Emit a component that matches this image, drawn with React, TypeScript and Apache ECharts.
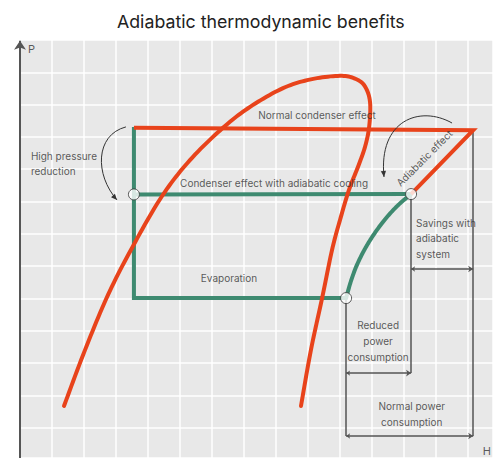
import React, { useEffect, useRef } from "react";
import * as echarts from "echarts";

// Axis extents in grid units (one white grid square = 1 unit); y runs downward from the top.
const X_MAX = 14.78;
const Y_MAX = 12.94;

// Saturation dome (red)
const domeCurve: [number, number][] = [
  [1.375, 11.33], [2.03, 9.6], [2.75, 7.89], [3.53, 6.38], [4.44, 4.83], [5.31, 3.72],
  [6.34, 2.72], [7.19, 2.07], [8.22, 1.49], [9.125, 1.21], [10.06, 1.11],
  [10.56, 1.24], [10.81, 1.49], [10.94, 1.95], [10.91, 2.69], [10.78, 3.31], [10.56, 3.93],
  [10.28, 4.64], [10.0, 5.57], [9.75, 6.5], [9.44, 7.99], [9.09, 9.6], [8.78, 11.33],
];

// Normal cycle: condenser line and compression (red)
const normalCycle: [number, number][] = [[3.56, 2.72], [14.16, 2.79], [12.22, 4.77]];

// Adiabatic cycle (green)
const adiabaticLoop: [number, number][] = [[3.56, 2.69], [3.56, 7.99], [10.19, 7.99]];
const adiabaticCondenser: [number, number][] = [[3.56, 4.78], [12.22, 4.77]];
const adiabaticCompression: [number, number][] = [
  [10.19, 7.99], [10.33, 7.5], [10.5, 7.03], [10.71, 6.59], [10.95, 6.18],
  [11.22, 5.79], [11.52, 5.42], [11.85, 5.08], [12.22, 4.77],
];

// State points (white circles)
const statePoints: [number, number][] = [[3.56, 4.78], [12.22, 4.77], [10.19, 7.99]];

// Thin guide lines and dimension arrows
const guideLines: [number, number][][] = [
  [[12.22, 4.77], [12.22, 10.31]],
  [[14.16, 2.79], [14.16, 12.26]],
  [[10.19, 8.02], [10.19, 12.26]],
];
const dimensionLines: [number, number][][] = [
  [[12.22, 7.09], [14.16, 7.09]],
  [[10.19, 10.31], [12.22, 10.31]],
  [[10.19, 12.26], [14.16, 12.26]],
];

// Curved annotation arrows: start, control 1, control 2, end
const curvedArrows: number[][] = [
  [3.31, 2.69, 2.34, 2.94, 2.34, 4.18, 3.03, 4.95],
  [13.5, 2.57, 12.5, 2.01, 11.19, 2.48, 11.375, 4.24],
];

// Annotation texts
const labelTexts = [
  "Normal condenser effect",
  "High pressure\nreduction",
  "Condenser effect with adiabatic cooling",
  "Evaporation",
  "Adiabatic effect",
  "Savings with\nadiabatic\nsystem",
  "Reduced\npower\nconsumption",
  "Normal power\nconsumption",
  "P",
  "H",
];
const labelAnchors: [number, number][] = [
  [9.28, 2.32], [0.34, 3.82], [7.94, 4.43], [6.53, 7.37], [12.63, 3.65],
  [12.375, 6.13], [11.19, 9.31], [12.24, 11.58], [0.25, 0.29], [14.59, 12.72],
];
const labelAligns = ["center", "left", "center", "center", "center", "left", "center", "center", "left", "center"];
const labelRotations = [0, 0, 0, 0, 45, 0, 0, 0, 0, 0];
const labelLineHeights = [14, 15, 14, 14, 14, 15.5, 16, 15.7, 14, 14];
const labelSizes = [10, 10, 10, 10, 10, 10, 10, 10, 11, 11];

const RED = "#e8431b";
const GREEN = "#3e8a70";
const INK = "#333333";
const FONT = "Inter, 'Noto Sans', sans-serif";

// Smooth curve through the points (Catmull-Rom), drawn with the chart's own scales.
function splineSeries(points: [number, number][], color: string, z: number) {
  return {
    type: "custom",
    coordinateSystem: "cartesian2d",
    silent: true,
    z,
    data: points,
    renderItem: (params: any, api: any) => {
      if (params.dataIndex !== 0) return null;
      const px = points.map((p) => api.coord(p));
      const out: number[][] = [];
      const n = px.length;
      for (let i = 0; i < n - 1; i++) {
        const p0 = px[Math.max(0, i - 1)];
        const p1 = px[i];
        const p2 = px[i + 1];
        const p3 = px[Math.min(n - 1, i + 2)];
        const steps = 12;
        for (let s = 0; s < steps; s++) {
          const t = s / steps;
          const t2 = t * t, t3 = t2 * t;
          const f = (a: number, b: number, c: number, d: number) =>
            0.5 * (2 * b + (-a + c) * t + (2 * a - 5 * b + 4 * c - d) * t2 + (-a + 3 * b - 3 * c + d) * t3);
          out.push([f(p0[0], p1[0], p2[0], p3[0]), f(p0[1], p1[1], p2[1], p3[1])]);
        }
      }
      out.push(px[n - 1]);
      return {
        type: "polyline",
        shape: { points: out },
        style: { stroke: color, lineWidth: 4, fill: null, lineCap: "round", lineJoin: "round" },
      };
    },
  };
}

export default function App() {
  const ref = useRef<HTMLDivElement>(null);

  useEffect(() => {
    if (!ref.current) return;
    const chart = echarts.init(ref.current, undefined, { renderer: "svg" });

    const option: any = {
      animation: false,
      backgroundColor: "#ffffff",
      title: {
        text: "Adiabatic thermodynamic benefits",
        left: 112,
        top: 7,
        textStyle: { fontSize: 17.75, fontWeight: "normal", color: "#222", fontFamily: FONT },
      },
      grid: {
        left: 20, top: 40, right: 0, bottom: 0,
        show: true, backgroundColor: "#e8e8e8", borderWidth: 0,
      },
      xAxis: {
        type: "value", min: 0, max: X_MAX, interval: 1,
        axisLine: { show: false }, axisTick: { show: false }, axisLabel: { show: false },
        splitLine: { show: true, lineStyle: { color: "#ffffff", width: 1.5 } },
      },
      yAxis: {
        type: "value", min: 0, max: Y_MAX, interval: 1, inverse: true,
        axisLine: { show: false }, axisTick: { show: false }, axisLabel: { show: false },
        splitLine: { show: true, lineStyle: { color: "#ffffff", width: 1.5 } },
      },
      series: [
        {
          type: "lines", coordinateSystem: "cartesian2d", silent: true, clip: false,
          symbol: ["none", "arrow"], symbolSize: [7, 9],
          lineStyle: { color: "#555", width: 2, opacity: 1 },
          data: [{ coords: [[0, Y_MAX], [0, 0.02]] }],
          z: 3,
        },
        {
          type: "line", data: adiabaticLoop, showSymbol: false, silent: true,
          lineStyle: { color: GREEN, width: 4, join: "miter" }, z: 4,
        },
        {
          type: "line", data: adiabaticCondenser, showSymbol: false, silent: true,
          lineStyle: { color: GREEN, width: 4 }, z: 4,
        },
        splineSeries(adiabaticCompression, GREEN, 4),
        splineSeries(domeCurve, RED, 5),
        {
          type: "line", data: normalCycle, showSymbol: false, silent: true,
          lineStyle: { color: RED, width: 4, join: "miter" }, z: 5,
        },
        {
          type: "lines", coordinateSystem: "cartesian2d", silent: true, clip: false,
          symbol: "none",
          lineStyle: { color: "#555", width: 1.5, opacity: 1 },
          data: guideLines.map((c) => ({ coords: c })),
          z: 3,
        },
        {
          type: "lines", coordinateSystem: "cartesian2d", silent: true, clip: false,
          symbol: ["arrow", "arrow"], symbolSize: [4, 5],
          lineStyle: { color: "#555", width: 1.5, opacity: 1 },
          data: dimensionLines.map((c) => ({ coords: c })),
          z: 3,
        },
        {
          type: "custom", coordinateSystem: "cartesian2d", silent: true,
          dimensions: ["x0", "y0", "c1x", "c1y", "c2x", "c2y", "x1", "y1"],
          encode: { x: [0, 2, 4, 6], y: [1, 3, 5, 7] },
          data: curvedArrows,
          z: 6,
          renderItem: (params: any, api: any) => {
            const p = (i: number) => api.coord([api.value(i), api.value(i + 1)]);
            const a = p(0), c1 = p(2), c2 = p(4), b = p(6);
            const ang = Math.atan2(b[1] - c2[1], b[0] - c2[0]);
            const L = 6, W = 2.6;
            const base = [b[0] - L * Math.cos(ang), b[1] - L * Math.sin(ang)];
            const left = [base[0] + W * Math.sin(ang), base[1] - W * Math.cos(ang)];
            const right = [base[0] - W * Math.sin(ang), base[1] + W * Math.cos(ang)];
            return {
              type: "group",
              children: [
                {
                  type: "bezierCurve",
                  shape: { x1: a[0], y1: a[1], cpx1: c1[0], cpy1: c1[1], cpx2: c2[0], cpy2: c2[1], x2: b[0], y2: b[1] },
                  style: { stroke: INK, lineWidth: 1, fill: null },
                },
                { type: "polygon", shape: { points: [b, left, right] }, style: { fill: INK } },
              ],
            };
          },
        },
        {
          type: "scatter", data: statePoints, symbol: "circle", symbolSize: 11, silent: true,
          itemStyle: { color: "#ffffff", borderColor: "#333", borderWidth: 1 }, z: 7,
        },
        {
          type: "scatter", symbolSize: 0, silent: true, z: 8,
          data: labelTexts.map((t, i) => ({
            value: labelAnchors[i],
            label: {
              show: true,
              position: "inside",
              formatter: t,
              align: labelAligns[i],
              verticalAlign: "middle",
              rotate: labelRotations[i],
              lineHeight: labelLineHeights[i],
              fontSize: labelSizes[i],
              color: INK,
              fontFamily: FONT,
            },
          })),
        },
      ],
    };

    chart.setOption(option);
    return () => chart.dispose();
  }, []);

  return (
    <div
      ref={ref}
      style={{ position: "absolute", left: 0, top: 0, width: 493, height: 458 }}
    />
  );
}
